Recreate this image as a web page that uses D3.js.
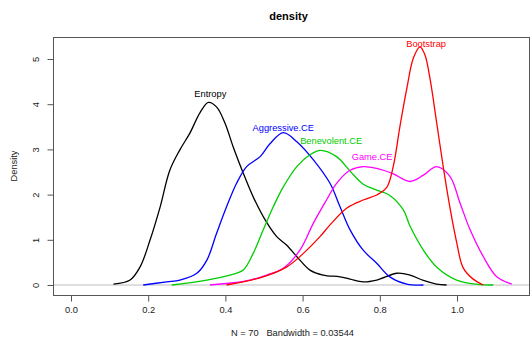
<!DOCTYPE html>
<html>
<head>
<meta charset="utf-8">
<script src="https://cdn.jsdelivr.net/npm/d3@7"></script>
<style>
  body { margin: 0; background: #fff; }
  text { font-family: "Liberation Sans", Arial, sans-serif; }
</style>
</head>
<body>
<div id="content"></div>
<script>
(function(d3) {

   var win_width = 531;
   var win_height = 338;

   // series names, colours (old R palette) and label spots
   var names = ["Entropy", "Aggressive.CE", "Benevolent.CE", "Game.CE", "Bootstrap"];
   var colors = ["#000000", "#0000FF", "#00CD00", "#FF00FF", "#FF0000"];
   var labelX = [0.361, 0.55, 0.674, 0.78, 0.92];
   var labelY = [4.24, 3.49, 3.19, 2.83, 5.33];

   // density curves, [x, density]
   var entropy = [[0.11,0.02],[0.153,0.11],[0.179,0.40],[0.205,1.0],[0.231,1.73],[0.256,2.54],[0.282,2.99],
      [0.308,3.36],[0.334,3.81],[0.356,4.04],[0.377,3.94],[0.399,3.58],[0.420,3.06],[0.446,2.48],[0.472,1.95],
      [0.503,1.44],[0.533,1.07],[0.559,0.88],[0.589,0.59],[0.619,0.33],[0.653,0.22],[0.697,0.18],[0.723,0.13],
      [0.757,0.07],[0.792,0.11],[0.845,0.26],[0.878,0.22],[0.913,0.10],[0.947,0.02],[0.973,0.0]];
   var aggressive = [[0.187,0],[0.248,0.07],[0.282,0.11],[0.326,0.26],[0.352,0.55],[0.377,1.14],[0.403,1.73],
      [0.429,2.25],[0.455,2.62],[0.490,2.84],[0.516,3.13],[0.550,3.37],[0.585,3.17],[0.628,2.77],[0.671,2.25],
      [0.697,1.73],[0.723,1.22],[0.757,0.77],[0.792,0.48],[0.826,0.18],[0.870,0.02],[0.913,0]];
   var benevolent = [[0.261,0],[0.352,0.11],[0.412,0.22],[0.446,0.33],[0.472,0.70],[0.498,1.22],[0.524,1.73],
      [0.550,2.17],[0.585,2.62],[0.619,2.88],[0.646,2.98],[0.688,2.84],[0.723,2.52],[0.757,2.23],[0.792,2.10],
      [0.826,1.98],[0.861,1.66],[0.878,1.31],[0.913,0.77],[0.947,0.40],[0.999,0.11],[1.06,0.01],[1.094,0]];
   var game = [[0.360,0],[0.420,0.05],[0.464,0.11],[0.507,0.22],[0.550,0.37],[0.593,0.77],[0.628,1.37],
      [0.662,1.88],[0.688,2.25],[0.723,2.54],[0.757,2.62],[0.792,2.58],[0.835,2.46],[0.878,2.29],[0.913,2.43],
      [0.947,2.62],[0.982,2.40],[1.008,1.81],[1.034,1.22],[1.068,0.63],[1.103,0.18],[1.142,0.02]];
   var bootstrap = [[0.403,0],[0.498,0.18],[0.559,0.40],[0.602,0.70],[0.645,1.07],[0.671,1.33],[0.714,1.70],
      [0.757,1.88],[0.792,1.99],[0.818,2.16],[0.835,2.63],[0.852,3.50],[0.870,4.35],[0.887,5.02],[0.904,5.27],
      [0.917,5.09],[0.930,4.57],[0.947,3.61],[0.965,2.58],[0.982,1.70],[0.999,0.95],[1.016,0.38],[1.042,0.13],
      [1.068,0]];
   var series = [entropy, aggressive, benevolent, game, bootstrap];

   var xTicks = [0, 0.2, 0.4, 0.6, 0.8, 1.0];
   var yTicks = [0, 1, 2, 3, 4, 5];

   var box = {left: 53, right: 530, top: 37, bottom: 295};

   var svg = d3.select("#content")
            .append("svg")
            .attr("width", win_width)
            .attr("height", win_height);

   var x = d3.scaleLinear().domain([0, 1]).range([71, 457]);
   var y = d3.scaleLinear().domain([0, 5]).range([285, 59]);

   // zero line
   svg.append("line")
      .attr("x1", box.left).attr("x2", box.right)
      .attr("y1", y(0)).attr("y2", y(0))
      .style("stroke", "#bebebe").style("stroke-width", 1);

   var line = d3.line()
      .x(function(d) { return x(d[0]); })
      .y(function(d) { return y(d[1]); })
      .curve(d3.curveCatmullRom.alpha(0.5));

   series.forEach(function(s, i) {
      svg.append("path")
         .attr("d", line(s))
         .style("fill", "none")
         .style("stroke", colors[i])
         .style("stroke-width", 1.3);
      svg.append("text")
         .attr("x", x(labelX[i]))
         .attr("y", y(labelY[i]))
         .attr("dy", "0.35em")
         .attr("text-anchor", "middle")
         .style("font-size", "9.3px")
         .style("fill", colors[i])
         .text(names[i]);
   });

   // box
   svg.append("rect")
      .attr("x", box.left + 0.5).attr("y", box.top + 0.5)
      .attr("width", box.right - box.left - 1).attr("height", box.bottom - box.top)
      .style("fill", "none").style("stroke", "#555");

   // x axis
   var xAxis = svg.append("g")
      .attr("transform", "translate(0," + (box.bottom + 0.5) + ")")
      .call(d3.axisBottom(x).tickValues(xTicks).tickSize(6).tickPadding(5)
             .tickFormat(d3.format(".1f")));
   xAxis.select(".domain").remove();
   xAxis.selectAll("line").style("stroke", "#555");
   xAxis.selectAll("text").style("font-size", "9.3px").style("fill", "#222")
        .style("font-family", "Liberation Sans, Arial, sans-serif");

   // y axis, labels turned as R does
   var yAxis = svg.append("g")
      .attr("transform", "translate(" + (box.left + 0.5) + ",0)")
      .call(d3.axisLeft(y).tickValues(yTicks).tickSize(6).tickFormat(d3.format("d")));
   yAxis.select(".domain").remove();
   yAxis.selectAll("line").style("stroke", "#555");
   yAxis.selectAll("text")
        .attr("x", null).attr("dy", null)
        .attr("text-anchor", "middle")
        .attr("transform", "translate(-18,0) rotate(-90)")
        .attr("y", 3)
        .style("font-size", "9.3px").style("fill", "#222")
        .style("font-family", "Liberation Sans, Arial, sans-serif");

   svg.append("text")
      .attr("x", (box.left + box.right) / 2 - 3).attr("y", 20)
      .attr("text-anchor", "middle")
      .style("font-size", "11px").style("font-weight", "bold")
      .text("density");

   svg.append("text")
      .attr("x", (box.left + box.right) / 2 + 1).attr("y", 336)
      .attr("text-anchor", "middle")
      .style("font-size", "9.3px").style("fill", "#222")
      .style("white-space", "pre")
      .text("N = 70   Bandwidth = 0.03544");

   svg.append("text")
      .attr("transform", "translate(17," + ((box.top + box.bottom) / 2) + ") rotate(-90)")
      .attr("text-anchor", "middle")
      .style("font-size", "9.3px").style("fill", "#222")
      .text("Density");

})(window.d3);
</script>
</body>
</html>
